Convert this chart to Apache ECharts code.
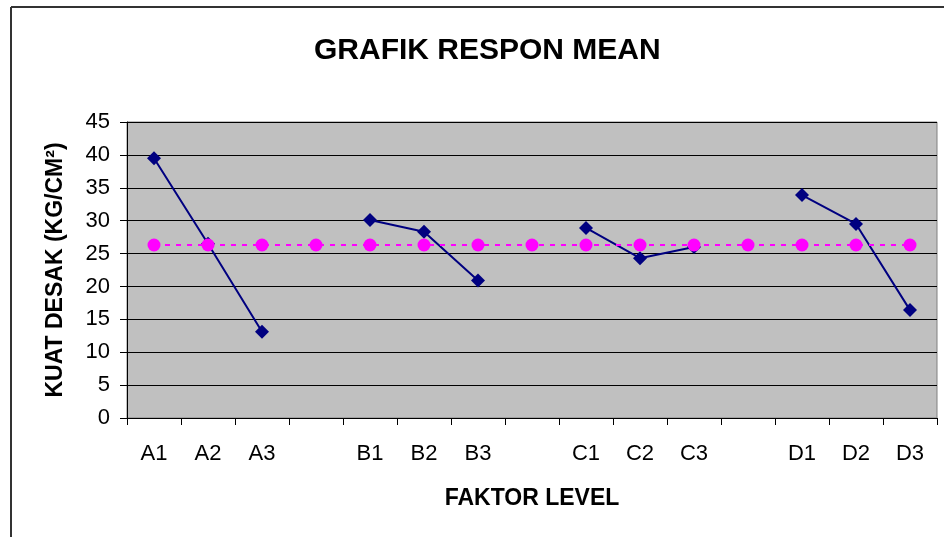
<!DOCTYPE html>
<html>
<head>
<meta charset="utf-8">
<script src="https://cdn.jsdelivr.net/npm/echarts@6/dist/echarts.min.js"></script>
<style>
  html, body { margin: 0; padding: 0; background: #fff; }
  #chart { width: 944px; height: 537px; }
</style>
</head>
<body>
<div id="chart"></div>
<script>
// kategori faktor level (kosong = pemisah antar faktor)
const levels = ['A1', 'A2', 'A3', '', 'B1', 'B2', 'B3', '', 'C1', 'C2', 'C3', '', 'D1', 'D2', 'D3']
// respon mean tiap level
const responMean = [39.5, 26.5, 13.1, null, 30.1, 28.3, 20.9, null, 28.9, 24.3, 26.0, null, 33.9, 29.5, 16.4]
// rata-rata keseluruhan
const rataRata = [26.3, 26.3, 26.3, 26.3, 26.3, 26.3, 26.3, 26.3, 26.3, 26.3, 26.3, 26.3, 26.3, 26.3, 26.3]

const font = 'Liberation Sans, Arial, sans-serif'
const chart = echarts.init(document.getElementById('chart'))

chart.setOption({
  animation: false,
  title: {
    text: 'GRAFIK RESPON MEAN',
    left: 309,
    top: 31,
    textStyle: { fontFamily: font, fontSize: 30, fontWeight: 'bold', color: '#000' }
  },
  grid: {
    left: 127,
    right: 7,
    top: 122,
    bottom: 119,
    show: true,
    backgroundColor: '#C0C0C0',
    borderColor: '#808080',
    borderWidth: 1
  },
  xAxis: {
    type: 'category',
    data: levels,
    boundaryGap: true,
    name: 'FAKTOR LEVEL',
    nameLocation: 'middle',
    nameGap: 69,
    nameTextStyle: { fontFamily: font, fontSize: 23, fontWeight: 'bold', color: '#000' },
    axisLine: { lineStyle: { color: '#000', width: 1 } },
    axisTick: { show: true, length: 7, interval: 0, lineStyle: { color: '#000' } },
    axisLabel: { interval: 0, margin: 25, fontFamily: font, fontSize: 22, color: '#000' },
    splitLine: { show: false }
  },
  yAxis: {
    type: 'value',
    min: 0,
    max: 45,
    interval: 5,
    name: 'KUAT DESAK (KG/CM²)',
    nameLocation: 'middle',
    nameRotate: 90,
    nameGap: 60,
    nameTextStyle: { fontFamily: font, fontSize: 23, fontWeight: 'bold', color: '#000' },
    axisLine: { show: true, lineStyle: { color: '#000', width: 1 } },
    axisTick: { show: true, length: 7, lineStyle: { color: '#000' } },
    axisLabel: { margin: 17, fontFamily: font, fontSize: 22, color: '#000' },
    splitLine: { show: true, lineStyle: { color: '#000', width: 1 } }
  },
  series: [
    {
      name: 'Respon',
      type: 'line',
      data: responMean,
      connectNulls: false,
      symbol: 'diamond',
      symbolSize: 14,
      itemStyle: { color: '#000080' },
      lineStyle: { color: '#000080', width: 2 },
      z: 3
    },
    {
      name: 'Rata-rata',
      type: 'line',
      data: rataRata,
      symbol: 'circle',
      symbolSize: 13,
      itemStyle: { color: '#FF00FF' },
      lineStyle: { color: '#FF00FF', width: 2, type: [5, 6] },
      z: 4
    }
  ],
  graphic: [
    { type: 'line', shape: { x1: 11, y1: 7, x2: 944, y2: 7 }, style: { stroke: '#333', lineWidth: 2 } },
    { type: 'line', shape: { x1: 11, y1: 7, x2: 11, y2: 537 }, style: { stroke: '#333', lineWidth: 2 } }
  ]
})
</script>
</body>
</html>
